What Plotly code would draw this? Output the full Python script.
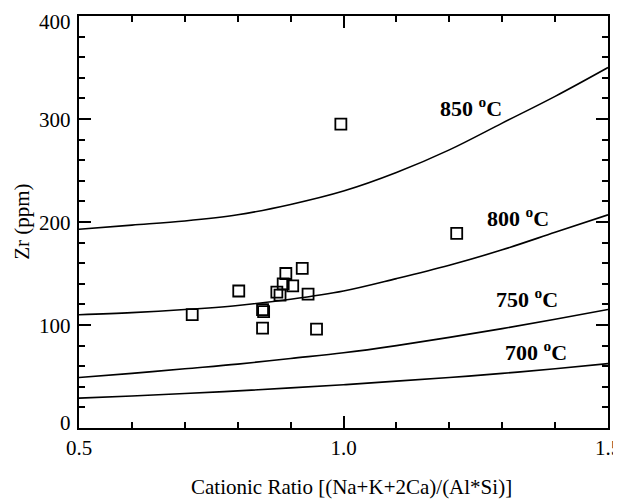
import plotly.graph_objects as go

# Curve sample ratios and Zr saturation values (ppm)
ratio = [0.5, 0.6, 0.7, 0.8, 0.9, 1.0, 1.1, 1.2, 1.3, 1.4, 1.5]
zr_850 = [193, 197, 201, 207, 217, 230, 248, 270, 296, 322, 350]
zr_800 = [110, 112, 115, 119, 125, 133, 145, 158, 173, 190, 207]
zr_750 = [49, 53, 57.5, 62, 67.5, 73, 80, 88, 96.5, 105.5, 115]
zr_700 = [29, 31, 33.5, 36, 39, 42, 45.5, 49, 53, 57.5, 62.5]

# Samples
sample_ratio = [0.714, 0.802, 0.847, 0.849, 0.847, 0.874, 0.880, 0.886, 0.891,
                0.904, 0.922, 0.933, 0.949, 0.995, 1.214]
sample_zr = [110, 133, 115, 113, 97, 132, 129, 140, 150, 138, 155, 130, 96, 295, 189]

# Curve labels
labels = ["850", "800", "750", "700"]
label_x = [1.241, 1.330, 1.347, 1.364]
label_y = [311.7, 204.4, 126.2, 75.2]

x_ticks = [0.5, 1.0, 1.5]
x_ticktext = ["0.5", "1.0", "1.5"]
y_ticks = [0, 100, 200, 300, 400]

FONT = "Liberation Serif, Times New Roman, serif"
FS = 21

fig = go.Figure()
for zr in (zr_850, zr_800, zr_750, zr_700):
    fig.add_trace(go.Scatter(x=ratio, y=zr, mode="lines", line=dict(color="black", width=1.6, shape="spline"),
                             showlegend=False, hoverinfo="skip"))

fig.add_trace(go.Scatter(x=sample_ratio, y=sample_zr, mode="markers",
                         marker=dict(symbol="square-open", size=11, color="black", line=dict(width=1.8, color="black")),
                         showlegend=False))

for t, lx, ly in zip(labels, label_x, label_y):
    fig.add_annotation(x=lx, y=ly, text=f"<b>{t} <sup>o</sup>C</b>", showarrow=False,
                       font=dict(family=FONT, size=22, color="black"), xanchor="center", yanchor="middle")

# y tick labels as annotations so the end labels can sit inside the frame
y_shift = {0: 5, 400: -6}
for v in y_ticks:
    fig.add_annotation(x=0, xref="paper", y=v, yref="y", text=str(v), showarrow=False,
                       xanchor="right", yanchor="middle", xshift=-6, yshift=y_shift.get(v, -1),
                       font=dict(family=FONT, size=FS, color="black"))

# axis titles
fig.add_annotation(x=0.516, y=-0.143, xref="paper", yref="paper", text="Cationic Ratio [(Na+K+2Ca)/(Al*Si)]",
                   showarrow=False, xanchor="center", yanchor="middle", font=dict(family=FONT, size=FS, color="black"))
fig.add_annotation(x=-0.108, y=0.5, xref="paper", yref="paper", text="Zr (ppm)", textangle=-90,
                   showarrow=False, xanchor="center", yanchor="middle", font=dict(family=FONT, size=FS, color="black"))

axis_common = dict(showgrid=False, zeroline=False, showline=True, linecolor="black", linewidth=2,
                   mirror="ticks", ticks="inside", ticklen=12, tickwidth=1.6, tickcolor="black",
                   tickfont=dict(family=FONT, size=FS, color="black"), automargin=False)

fig.update_xaxes(range=[0.5, 1.5], tickvals=x_ticks, ticktext=x_ticktext,
                 minor=dict(dtick=0.1, ticks="inside", ticklen=6, tickwidth=1.6, tickcolor="black", showgrid=False),
                 **axis_common)
fig.update_yaxes(range=[0, 400], tickvals=y_ticks, showticklabels=False,
                 minor=dict(dtick=20, ticks="inside", ticklen=6, tickwidth=1.6, tickcolor="black", showgrid=False),
                 **axis_common)

# page body adds an 8px offset, so margins are shifted to keep the frame where the reference has it
fig.update_layout(width=621, height=500, margin=dict(l=71, r=21, t=8, b=80),
                  plot_bgcolor="white", paper_bgcolor="white", font=dict(family=FONT))

fig.write_html("out.html")
